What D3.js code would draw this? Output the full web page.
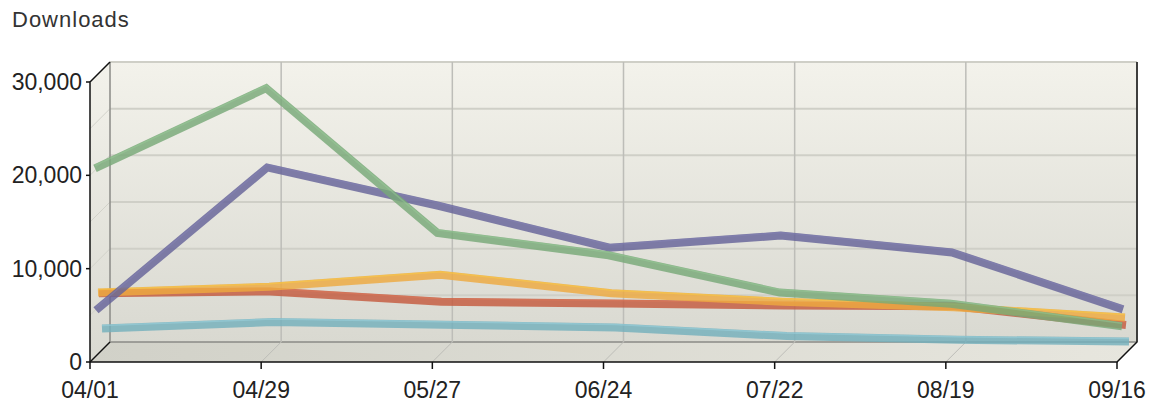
<!DOCTYPE html>
<html>
<head>
<meta charset="utf-8">
<script src="https://cdn.jsdelivr.net/npm/d3@7"></script>
<style>
  body { margin: 0; background: #fff; }
  text { font-family: "Liberation Sans", Arial, sans-serif; }
</style>
</head>
<body>
<div id="chart"></div>
<script>
// chart values
var dates = ["04/01", "04/29", "05/27", "06/24", "07/22", "08/19", "09/16"];
var yTicks = [0, 10000, 20000, 30000];
var greenVals = [20200, 28800, 13300, 10900, 6900, 5700, 3300];
var purpleVals = [4900, 20200, 16100, 11600, 12900, 11100, 5000];
var orangeVals = [6600, 7200, 8500, 6500, 5600, 5000, 3900];
var redVals = [6400, 6600, 5500, 5300, 5100, 5000, 3000];
var cyanVals = [2300, 3000, 2700, 2400, 1500, 1100, 900];

var width = 1158, height = 404;
var depth = 20;

var x = d3.scalePoint().domain(dates).range([90, 1117]);
var y = d3.scaleLinear().domain([0, 30000]).range([362, 82]);

var svg = d3.select("#chart").append("svg")
    .attr("width", width)
    .attr("height", height);

var defs = svg.append("defs");
var wallGrad = defs.append("linearGradient").attr("id", "wall")
    .attr("x1", 0).attr("y1", 0).attr("x2", 0).attr("y2", 1);
wallGrad.append("stop").attr("offset", "0%").attr("stop-color", "#f3f2eb");
wallGrad.append("stop").attr("offset", "100%").attr("stop-color", "#d9d9d1");
var floorGrad = defs.append("linearGradient").attr("id", "floor")
    .attr("x1", 0).attr("y1", 0).attr("x2", 1).attr("y2", 0);
floorGrad.append("stop").attr("offset", "0%").attr("stop-color", "#d1d1c8");
floorGrad.append("stop").attr("offset", "100%").attr("stop-color", "#e7e6de");

var x0 = x.range()[0], x1 = x.range()[1];
var yTop = y(30000), yBot = y(0);
var pts = function(a) { return a.map(function(p) { return p.join(","); }).join(" "); };

// back wall, left wall, floor
svg.append("polygon")
    .attr("points", pts([[x0 + depth, yTop - depth], [x1 + depth, yTop - depth], [x1 + depth, yBot - depth], [x0 + depth, yBot - depth]]))
    .attr("fill", "url(#wall)");
svg.append("polygon")
    .attr("points", pts([[x0, yTop], [x0 + depth, yTop - depth], [x0 + depth, yBot - depth], [x0, yBot]]))
    .attr("fill", "url(#wall)");
svg.append("polygon")
    .attr("points", pts([[x0, yBot], [x0 + depth, yBot - depth], [x1 + depth, yBot - depth], [x1, yBot]]))
    .attr("fill", "url(#floor)");

// horizontal grid on back wall + left wall
var hTicks = d3.range(0, 30001, 5000);
svg.selectAll(".hgrid").data(hTicks).enter().append("line")
    .attr("x1", x0 + depth).attr("x2", x1 + depth)
    .attr("y1", function(d) { return y(d) - depth; })
    .attr("y2", function(d) { return y(d) - depth; })
    .attr("stroke", function(d) { return d === 0 ? "#8a8a86" : "#cfcfc7"; })
    .attr("stroke-width", function(d) { return d === 0 ? 1.5 : 2; });
svg.selectAll(".lgrid").data(hTicks.slice(1, -1)).enter().append("line")
    .attr("x1", x0).attr("x2", x0 + depth)
    .attr("y1", function(d) { return y(d); })
    .attr("y2", function(d) { return y(d) - depth; })
    .attr("stroke", "#d2d2ca").attr("stroke-width", 1);

// vertical grid on back wall + floor diagonals
svg.selectAll(".vgrid").data(dates).enter().append("line")
    .attr("x1", function(d) { return x(d) + depth; })
    .attr("x2", function(d) { return x(d) + depth; })
    .attr("y1", yTop - depth).attr("y2", yBot - depth)
    .attr("stroke", function(d, i) { return i === 0 ? "#8a8a86" : "#bdbdb8"; })
    .attr("stroke-width", 1.5);
svg.selectAll(".fgrid").data(dates.slice(1, -1)).enter().append("line")
    .attr("x1", function(d) { return x(d); })
    .attr("x2", function(d) { return x(d) + depth; })
    .attr("y1", yBot).attr("y2", yBot - depth)
    .attr("stroke", "#bdbdb8").attr("stroke-width", 1);

// series, back to front
var series = [
    { vals: cyanVals, color: "#74b0bc", hi: "#9fd8e4", off: 12 },
    { vals: redVals, color: "#c45a3e", hi: "#e07a5a", off: 9 },
    { vals: orangeVals, color: "#eeaa40", hi: "#fcd040", off: 8 },
    { vals: purpleVals, color: "#656398", hi: "#8482b6", off: 6 },
    { vals: greenVals, color: "#78a878", hi: "#98cc98", off: 5 }
];

series.forEach(function(s) {
    var line = d3.line()
        .x(function(d, i) { return x(dates[i]) + s.off; })
        .y(function(d) { return y(d) - s.off; });
    svg.append("path")
        .attr("d", line(s.vals))
        .attr("fill", "none")
        .attr("stroke", s.color)
        .attr("stroke-width", 8)
        .attr("stroke-linejoin", "miter")
        .attr("stroke-opacity", 0.82);
    svg.append("path")
        .attr("d", line(s.vals))
        .attr("transform", "translate(0,-3)")
        .attr("fill", "none")
        .attr("stroke", s.hi)
        .attr("stroke-width", 1.5)
        .attr("stroke-opacity", 0.45);
});

// frame lines
var frame = svg.append("g").attr("stroke", "#111").attr("stroke-width", 1.5).attr("fill", "none");
frame.append("polyline")
    .attr("points", pts([[x0 + depth, yTop - depth], [x0, yTop], [x0, yBot], [x1, yBot], [x1 + depth, yBot - depth], [x1 + depth, yTop - depth]]));
frame.append("line")
    .attr("x1", x0).attr("y1", yBot).attr("x2", x0 + depth).attr("y2", yBot - depth);

// axis ticks
svg.selectAll(".xtick").data(dates).enter().append("line")
    .attr("x1", function(d) { return x(d); }).attr("x2", function(d) { return x(d); })
    .attr("y1", yBot).attr("y2", yBot + 7)
    .attr("stroke", "#111").attr("stroke-width", 1.5);
svg.selectAll(".ytick").data(yTicks).enter().append("line")
    .attr("x1", x0 - 4).attr("x2", x0)
    .attr("y1", function(d) { return y(d); }).attr("y2", function(d) { return y(d); })
    .attr("stroke", "#111").attr("stroke-width", 1.5);

// labels
var fmt = d3.format(",");
svg.selectAll(".ylab").data(yTicks).enter().append("text")
    .attr("x", x0 - 8)
    .attr("y", function(d) { return y(d) + 8; })
    .attr("text-anchor", "end")
    .attr("font-size", 23)
    .attr("fill", "#222")
    .text(function(d) { return fmt(d); });

svg.selectAll(".xlab").data(dates).enter().append("text")
    .attr("x", function(d) { return x(d); })
    .attr("y", 398)
    .attr("text-anchor", "middle")
    .attr("font-size", 23)
    .attr("fill", "#222")
    .text(function(d) { return d; });

svg.append("text")
    .attr("x", 12).attr("y", 27)
    .attr("font-size", 22)
    .attr("letter-spacing", 1)
    .attr("fill", "#333")
    .text("Downloads");
</script>
</body>
</html>
